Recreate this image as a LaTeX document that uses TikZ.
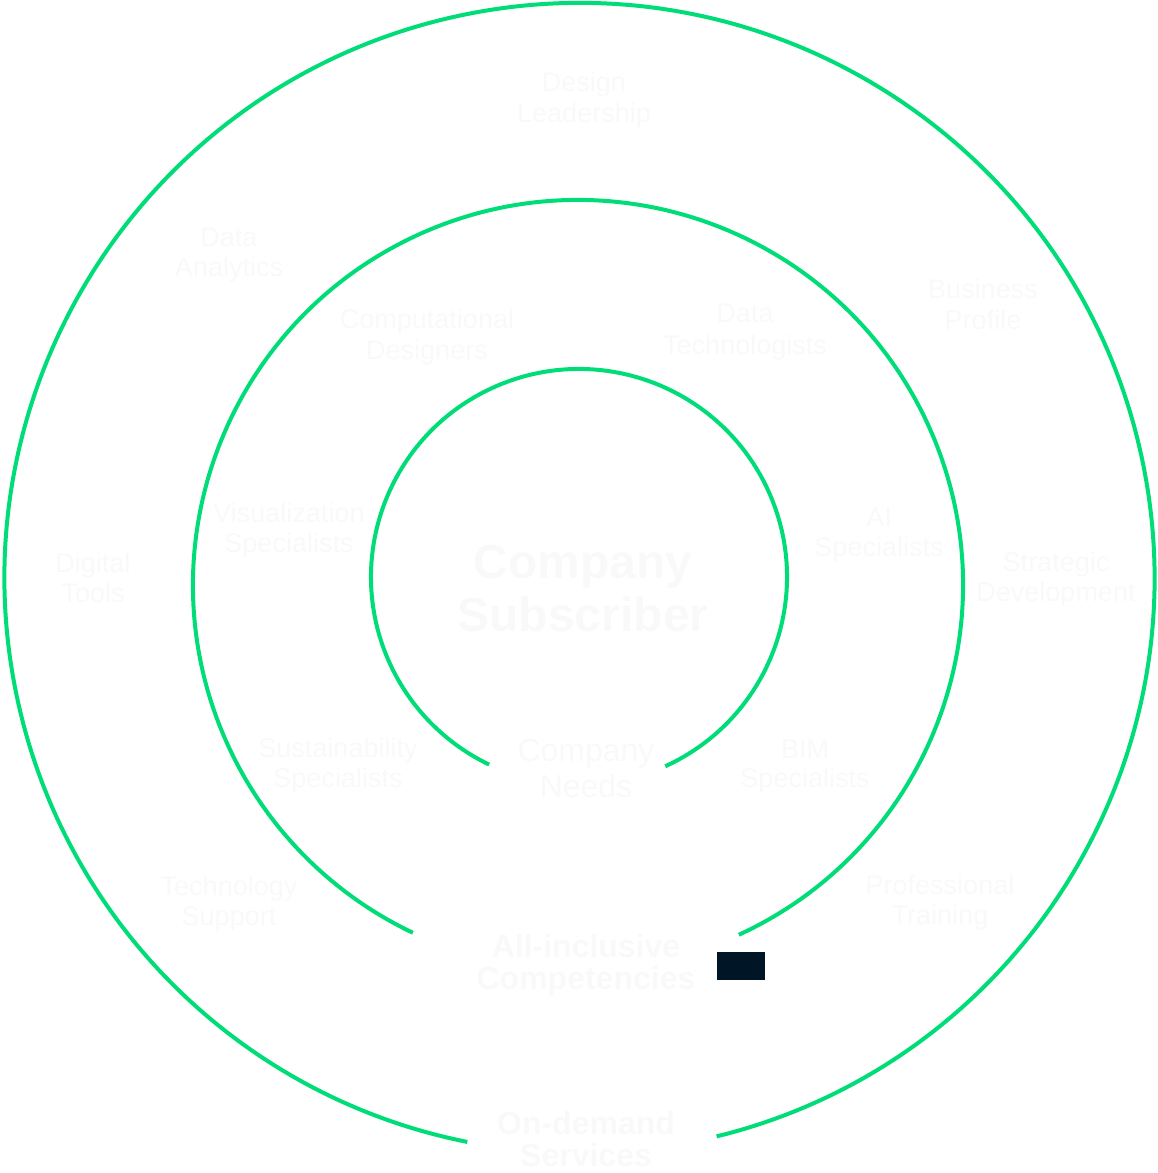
\documentclass[tikz,border=0pt]{standalone}
\usepackage{fontspec}
\setmainfont{Liberation Sans}
\definecolor{ringgreen}{RGB}{0,221,120}
\definecolor{ghost}{RGB}{249,249,249}
\definecolor{navyblock}{RGB}{0,21,37}
\begin{document}
\begin{tikzpicture}[x=1pt,y=1pt,
  ring/.style={draw=ringgreen,line width=4pt},
  lab/.style={text=ghost,anchor=base,inner sep=0pt,font=\fontsize{27}{30}\selectfont},
  labmid/.style={lab,font=\fontsize{32}{36}\selectfont},
  labbold/.style={lab,font=\bfseries\fontsize{32}{32}\selectfont},
  labbig/.style={lab,font=\bfseries\fontsize{48}{53}\selectfont}]
\useasboundingbox (0,0) rectangle (1157,1173);
% ring centres
\coordinate (oc) at (579.5,595);
\coordinate (mc) at (578,588);
\coordinate (ic) at (579,596);
% rings
\draw[ring] ([shift={(-76.2:575)}]oc) arc[start angle=-76.2, end angle=258.75, radius=575];
\draw[ring] ([shift={(-65.3:385)}]mc) arc[start angle=-65.3, end angle=244.6, radius=385];
\draw[ring] ([shift={(-65.5:208)}]ic) arc[start angle=-65.5, end angle=244.4, radius=208];
% dark block
\node[fill=navyblock,inner sep=0pt,minimum width=48pt,minimum height=28pt] (block) at (741,207) {};
% outer ring labels
\node[lab] (design1) at (584,1081) {Design};
\node[lab] (design2) at (584,1050) {Leadership};
\node[lab] (analytics1) at (229,926) {Data};
\node[lab] (analytics2) at (229,896) {Analytics};
\node[lab] (business1) at (983,874) {Business};
\node[lab] (business2) at (983,843) {Profile};
\node[lab] (digital1) at (93,600) {Digital};
\node[lab] (digital2) at (93,570) {Tools};
\node[lab] (strategic1) at (1056,601) {Strategic};
\node[lab] (strategic2) at (1056,571) {Development};
\node[lab] (techsup1) at (229,277) {Technology};
\node[lab] (techsup2) at (229,247) {Support};
\node[lab] (training1) at (940,278) {Professional};
\node[lab] (training2) at (940,248) {Training};
\node[labbold] (ondemand1) at (586,38) {On-demand};
\node[labbold] (ondemand2) at (586,6) {Services};
% middle ring labels
\node[lab] (comp1) at (427,844) {Computational};
\node[lab] (comp2) at (427,813) {Designers};
\node[lab] (datatech1) at (745,850) {Data};
\node[lab] (datatech2) at (745,818) {Technologists};
\node[lab] (visual1) at (289,650) {Visualization};
\node[lab] (visual2) at (289,620) {Specialists};
\node[lab] (ai1) at (879,646) {AI};
\node[lab] (ai2) at (879,616) {Specialists};
\node[lab] (sustain1) at (338,415) {Sustainability};
\node[lab] (sustain2) at (338,385) {Specialists};
\node[lab] (bim1) at (805,414) {BIM};
\node[lab] (bim2) at (805,385) {Specialists};
\node[labbold] (allinc1) at (586,215) {All-inclusive};
\node[labbold] (allinc2) at (586,183) {Competencies};
% inner ring labels
\node[labbig] (subscriber1) at (583,594) {Company};
\node[labbig] (subscriber2) at (583,541) {Subscriber};
\node[labmid] (needs1) at (586,411) {Company};
\node[labmid] (needs2) at (586,375) {Needs};
\end{tikzpicture}
\end{document}
